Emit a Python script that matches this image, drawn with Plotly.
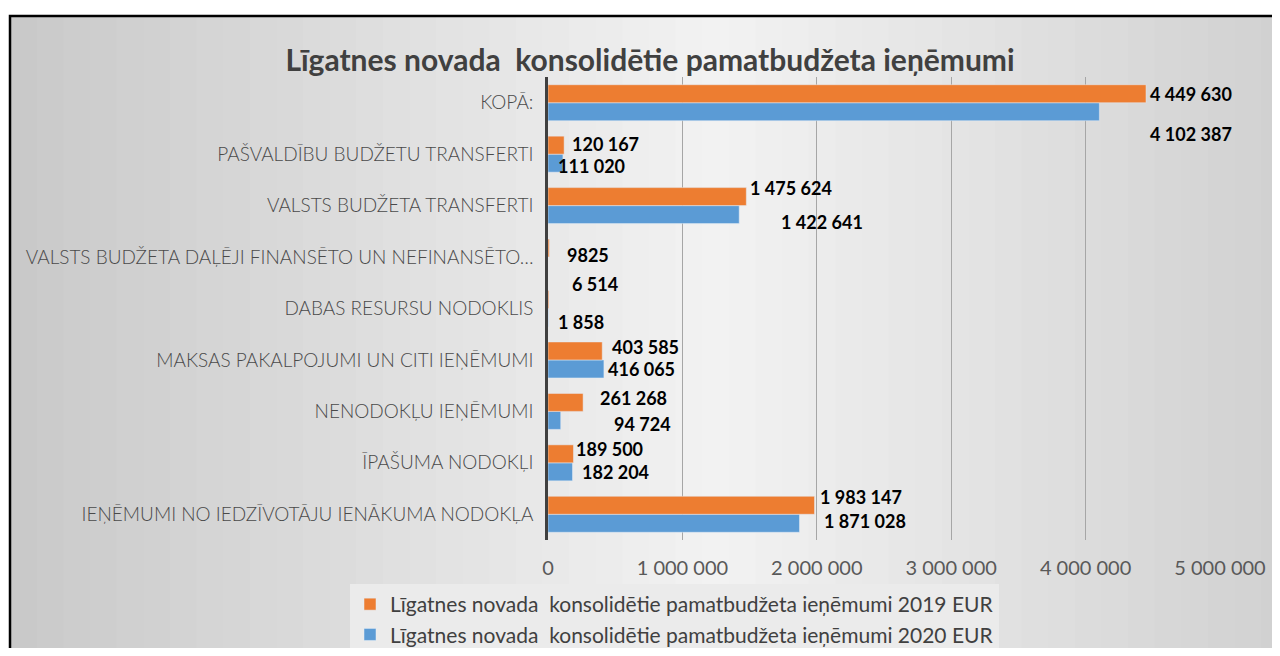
import plotly.graph_objects as go

categories = [
    "IEŅĒMUMI NO IEDZĪVOTĀJU IENĀKUMA NODOKĻA",
    "ĪPAŠUMA NODOKĻI",
    "NENODOKĻU IEŅĒMUMI",
    "MAKSAS PAKALPOJUMI UN CITI IEŅĒMUMI",
    "DABAS RESURSU NODOKLIS",
    "VALSTS BUDŽETA DAĻĒJI FINANSĒTO UN NEFINANSĒTO…",
    "VALSTS BUDŽETA TRANSFERTI",
    "PAŠVALDĪBU BUDŽETU TRANSFERTI",
    "KOPĀ:",
]
values_2019 = [1983147, 189500, 261268, 403585, 6514, 9825, 1475624, 120167, 4449630]
values_2020 = [1871028, 182204, 94724, 416065, 1858, None, 1422641, 111020, 4102387]

name_2019 = "Līgatnes novada \u00a0konsolidētie pamatbudžeta ieņēmumi 2019 EUR"
name_2020 = "Līgatnes novada \u00a0konsolidētie pamatbudžeta ieņēmumi 2020 EUR"
title = "Līgatnes novada \u00a0konsolidētie pamatbudžeta ieņēmumi"

# label nudges in px (xshift, yshift), bottom to top, as placed in the original
shift_2019 = [(3, 17), (1, 14), (15, 13), (8, 13), (21, 25), (16, 2), (2, 18), (6, 10), (2, 9)]
shift_2020 = [(23, -7), (8, -9), (51, -13), (2, -9), (8, -13), None, (40, -16), (-7, -12), (49, -31)]

ORANGE = "#ED7D31"
BLUE = "#5B9BD5"
FONT = "Lato, sans-serif"

# the page body adds an 8px margin, so the figure is a bit smaller than the window
W, H = 1264, 640
ML, MR, MT, MB = 540, 52, 69, 108
PW, PH = W - ML - MR, H - MT - MB


def px_x(x):
    return (x - ML) / PW


def px_y(y):
    return (H - MB - y) / PH


def fmt(v):
    return f"{v:,}".replace(",", " ")


fig = go.Figure()
fig.add_trace(go.Bar(y=categories, x=values_2020, orientation="h", name=name_2020,
                     marker_color=BLUE, legendrank=2))
fig.add_trace(go.Bar(y=categories, x=values_2019, orientation="h", name=name_2019,
                     marker_color=ORANGE, legendrank=1))

for vals, shifts in ((values_2019, shift_2019), (values_2020, shift_2020)):
    for cat, v, s in zip(categories, vals, shifts):
        if v is None:
            continue
        fig.add_annotation(x=v, y=cat, text=str(v) if v == 9825 else fmt(v),
                           showarrow=False, xanchor="left", yanchor="middle",
                           xshift=s[0], yshift=s[1],
                           font=dict(family=FONT, size=18, color="#000000", weight="bold"))

# background gradient + frame
left, right, top, bottom = 2, 1280, 8, 660
n = 48
for i in range(n):
    t = (i + 0.5) / n
    c = 242 - int(abs(t - 0.55) * 2 * 38)
    fig.add_shape(type="rect", xref="paper", yref="paper", layer="below",
                  x0=px_x(left + (right - left) * i / n), x1=px_x(left + (right - left) * (i + 1) / n + 1),
                  y0=px_y(bottom), y1=px_y(top), line_width=0,
                  fillcolor=f"rgb({c},{c},{c})")
fig.add_shape(type="rect", xref="paper", yref="paper", layer="above",
              x0=px_x(left), x1=px_x(right), y0=px_y(bottom), y1=px_y(top),
              line=dict(color="#000000", width=2.5), fillcolor="rgba(0,0,0,0)")

fig.update_layout(
    width=W, height=H,
    margin=dict(l=ML, r=MR, t=MT, b=MB, autoexpand=False),
    paper_bgcolor="#ffffff", plot_bgcolor="rgba(0,0,0,0)",
    barmode="group", bargap=0.3, bargroupgap=0,
    separators=". ",
    font=dict(family=FONT, color="#595959"),
    title=dict(text=title, xref="container", yref="container", x=642 / W, y=1 - 52 / H,
               xanchor="center", yanchor="middle",
               font=dict(family=FONT, size=30, color="#404040", weight="bold")),
    xaxis=dict(range=[0, 5000000], dtick=1000000, tickformat=",d", tickangle=0,
               showgrid=True, gridcolor="#a6a6a6", gridwidth=1, zeroline=False,
               showline=False, ticks="", ticklabelstandoff=14, automargin=False,
               tickfont=dict(size=20, color="#595959")),
    yaxis=dict(type="category", categoryorder="array", categoryarray=categories,
               showgrid=False, showline=True, linecolor="#404040", linewidth=2.5,
               ticks="", ticklabelstandoff=8, automargin=False,
               tickfont=dict(size=19, color="#4a4a4a", weight=300)),
    legend=dict(xref="container", yref="container", x=342 / W, y=1 - 576 / H,
                xanchor="left", yanchor="top", bgcolor="#ebebeb",
                font=dict(size=21, color="#404040"), itemwidth=30,
                tracegroupgap=0),
    showlegend=True,
)

fig.write_html("out.html")
